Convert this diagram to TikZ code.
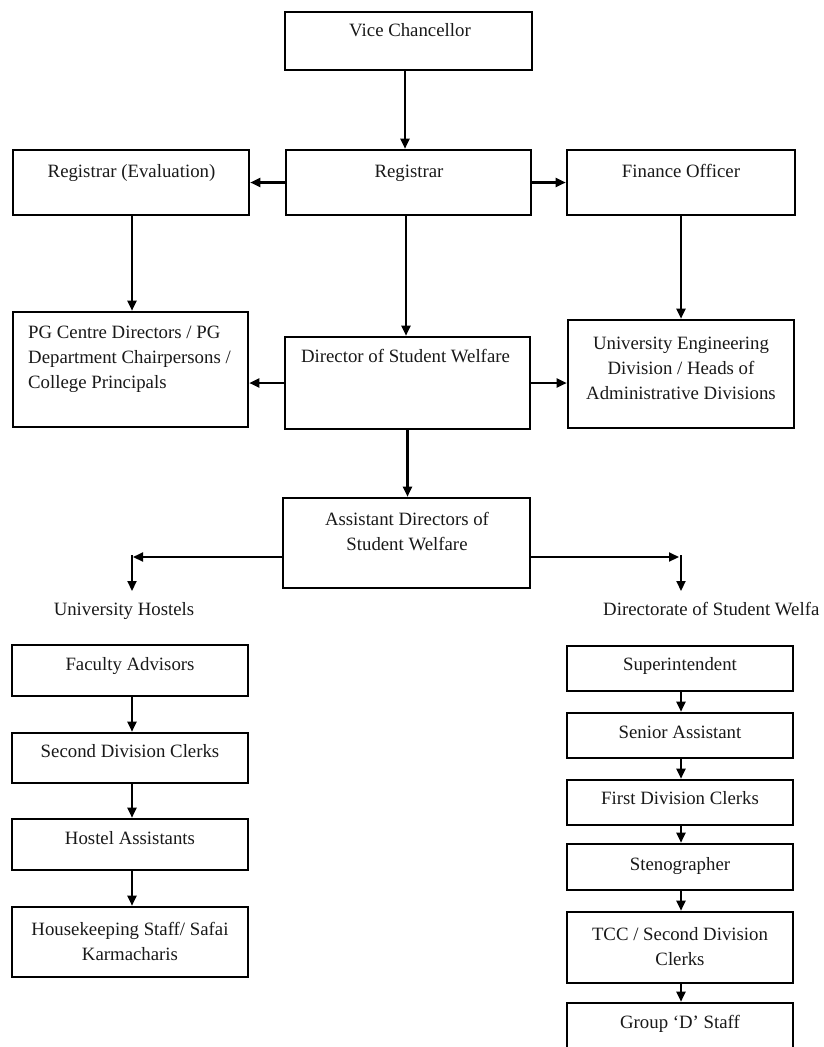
\documentclass[tikz,border=0pt]{standalone}
\usepackage{fontspec}
\setmainfont{Liberation Serif}
\usetikzlibrary{arrows.meta}
\begin{document}
\begin{tikzpicture}[x=1pt,y=-1pt,
  box/.style={draw=black, line width=2.6pt, rectangle, inner sep=0pt},
  txt/.style={inner sep=0pt, font=\fontsize{18.8}{25}\selectfont, text=black!90},
  one/.style={txt, text height=0.69em, text depth=0.22em},
  multi/.style={txt, align=center},
  arr/.style={line width=2.1pt, -{Triangle[length=10pt,width=9pt]}}]
\useasboundingbox (0,0) rectangle (823,1047);
\fill[white] (0,0) rectangle (823,1047);

% boxes
\node[box, minimum width=247pt, minimum height=58pt] (vc) at (408.5,41) {};
\node[box, minimum width=236pt, minimum height=65pt] (reval) at (131,182.5) {};
\node[box, minimum width=245pt, minimum height=65pt] (reg) at (408.5,182.5) {};
\node[box, minimum width=228pt, minimum height=65pt] (fin) at (681,182.5) {};
\node[box, minimum width=235pt, minimum height=115pt] (pg) at (130.5,369.5) {};
\node[box, minimum width=245pt, minimum height=92pt] (dsw) at (407.5,383) {};
\node[box, minimum width=226pt, minimum height=108pt] (ued) at (681,374) {};
\node[box, minimum width=247pt, minimum height=90pt] (adsw) at (406.5,543) {};
\node[box, minimum width=236pt, minimum height=51pt] (fa) at (130,670.5) {};
\node[box, minimum width=236pt, minimum height=50pt] (sdc) at (130,758) {};
\node[box, minimum width=236pt, minimum height=51pt] (ha) at (130,844.5) {};
\node[box, minimum width=236pt, minimum height=70pt] (hk) at (130,942) {};
\node[box, minimum width=226pt, minimum height=45pt] (sup) at (680,668.5) {};
\node[box, minimum width=226pt, minimum height=45pt] (sa) at (680,735.5) {};
\node[box, minimum width=226pt, minimum height=45pt] (fdc) at (680,802.5) {};
\node[box, minimum width=226pt, minimum height=46pt] (steno) at (680,867) {};
\node[box, minimum width=226pt, minimum height=71pt] (tcc) at (680,947.5) {};
\node[box, minimum width=226pt, minimum height=46pt] (gd) at (680,1026) {};

% texts
\node[one] (vc-t) at (410,34) {Vice Chancellor};
\node[one] (reval-t) at (131.5,175) {Registrar (Evaluation)};
\node[one] (reg-t) at (409,175) {Registrar};
\node[one] (fin-t) at (681,175) {Finance Officer};
\node[txt, align=left, anchor=west] (pg-t) at (28,359) {PG Centre Directors / PG\\Department Chairpersons /\\College Principals};
\node[one] (dsw-t) at (405.5,360) {Director of Student Welfare};
\node[multi] (ued-t) at (681,368) {University Engineering\\Division / Heads of\\Administrative Divisions};
\node[multi] (adsw-t) at (407,532) {Assistant Directors of\\Student Welfare};
\node[one] (uh-t) at (124,613) {University Hostels};
\node[one, anchor=west] (dsw2-t) at (603,613) {Directorate of Student Welfa};
\node[one] (fa-t) at (130,668) {Faculty Advisors};
\node[one] (sdc-t) at (130,755) {Second Division Clerks};
\node[one] (ha-t) at (130,842) {Hostel Assistants};
\node[multi] (hk-t) at (130,941.5) {Housekeeping Staff/ Safai\\Karmacharis};
\node[one] (sup-t) at (680,668) {Superintendent};
\node[one] (sa-t) at (680,736) {Senior Assistant};
\node[one] (fdc-t) at (680,802) {First Division Clerks};
\node[one] (steno-t) at (680,868) {Stenographer};
\node[multi] (tcc-t) at (680,946.5) {TCC / Second Division\\Clerks};
\node[one] (gd-t) at (680,1026) {Group `D' Staff};

% connectors
\draw[arr] ([xshift=-3.5pt]vc.south) -- ([xshift=-3.5pt]reg.north);
\draw[arr] (reg.west) -- (reg.west -| reval.east);
\draw[arr] (reg.east) -- (reg.east -| fin.west);
\draw[arr] ([xshift=1pt]reval.south) -- ([xshift=1pt]reval.south |- pg.north);
\draw[arr] ([xshift=-2.5pt]reg.south) -- ([xshift=-2.5pt]reg.south |- dsw.north);
\draw[arr] (fin.south) -- (fin.south |- ued.north);
\draw[arr] (dsw.west) -- (dsw.west -| pg.east);
\draw[arr] (dsw.east) -- (dsw.east -| ued.west);
\draw[arr] (dsw.south) -- (dsw.south |- adsw.north);

\coordinate (lh) at (133,557);
\coordinate (lv0) at (132,555);
\coordinate (lv1) at (132,591);
\coordinate (rh) at (679,557);
\coordinate (rv0) at (681,555);
\coordinate (rv1) at (681,591);
\draw[arr] ([yshift=-14pt]adsw.west) -- (lh);
\draw[arr] (lv0) -- (lv1);
\draw[arr] ([yshift=-14pt]adsw.east) -- (rh);
\draw[arr] (rv0) -- (rv1);

\draw[arr] ([xshift=2pt]fa.south) -- ([xshift=2pt]sdc.north);
\draw[arr] ([xshift=2pt]sdc.south) -- ([xshift=2pt]ha.north);
\draw[arr] ([xshift=2pt]ha.south) -- ([xshift=2pt]hk.north);
\draw[arr] ([xshift=1pt]sup.south) -- ([xshift=1pt]sa.north);
\draw[arr] ([xshift=1pt]sa.south) -- ([xshift=1pt]fdc.north);
\draw[arr] ([xshift=1pt]fdc.south) -- ([xshift=1pt]steno.north);
\draw[arr] ([xshift=1pt]steno.south) -- ([xshift=1pt]tcc.north);
\draw[arr] ([xshift=1pt]tcc.south) -- ([xshift=1pt]gd.north);
\end{tikzpicture}
\end{document}
